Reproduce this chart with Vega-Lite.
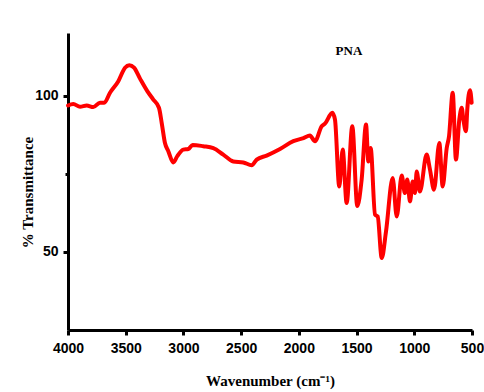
{
  "$schema": "https://vega.github.io/schema/vega-lite/v6.json",
  "width": 404,
  "height": 297,
  "autosize": "none",
  "padding": {"left": 68, "top": 33, "right": 12, "bottom": 62},
  "background": "white",
  "config": {"view": {"stroke": null}},
  "layer": [
    {
      "data": {"values": [
        {"wn": 4000, "t": 96.8}, {"wn": 3954, "t": 97.3}, {"wn": 3896, "t": 96.4}, {"wn": 3838, "t": 96.8},
        {"wn": 3781, "t": 96.3}, {"wn": 3723, "t": 97.7}, {"wn": 3686, "t": 97.7}, {"wn": 3636, "t": 100.9},
        {"wn": 3564, "t": 104.6}, {"wn": 3506, "t": 108.9}, {"wn": 3469, "t": 109.7}, {"wn": 3428, "t": 108.9},
        {"wn": 3376, "t": 105.4}, {"wn": 3313, "t": 101.4}, {"wn": 3261, "t": 98.7}, {"wn": 3212, "t": 96.1},
        {"wn": 3188, "t": 91.2}, {"wn": 3160, "t": 84.8}, {"wn": 3131, "t": 82.2}, {"wn": 3088, "t": 78.6},
        {"wn": 3053, "t": 80.6}, {"wn": 3001, "t": 82.7}, {"wn": 2958, "t": 82.9}, {"wn": 2920, "t": 84.2},
        {"wn": 2828, "t": 83.8}, {"wn": 2741, "t": 83.2}, {"wn": 2655, "t": 81.1}, {"wn": 2568, "t": 78.9},
        {"wn": 2481, "t": 78.6}, {"wn": 2409, "t": 77.7}, {"wn": 2365, "t": 79.5}, {"wn": 2279, "t": 80.8},
        {"wn": 2163, "t": 82.9}, {"wn": 2048, "t": 85.4}, {"wn": 1960, "t": 86.4}, {"wn": 1904, "t": 87.2},
        {"wn": 1860, "t": 85.4}, {"wn": 1802, "t": 90.2}, {"wn": 1774, "t": 91.0}, {"wn": 1710, "t": 94.5},
        {"wn": 1687, "t": 92.3}, {"wn": 1650, "t": 70.9}, {"wn": 1620, "t": 82.7}, {"wn": 1586, "t": 65.6},
        {"wn": 1537, "t": 90.2}, {"wn": 1494, "t": 64.7}, {"wn": 1456, "t": 73.1}, {"wn": 1418, "t": 90.7},
        {"wn": 1398, "t": 78.9}, {"wn": 1378, "t": 83.2}, {"wn": 1340, "t": 61.9}, {"wn": 1317, "t": 61.3},
        {"wn": 1282, "t": 48.0}, {"wn": 1245, "t": 56.5}, {"wn": 1187, "t": 73.6}, {"wn": 1152, "t": 61.3},
        {"wn": 1109, "t": 74.4}, {"wn": 1081, "t": 68.8}, {"wn": 1061, "t": 73.1}, {"wn": 1037, "t": 66.1},
        {"wn": 1014, "t": 72.5}, {"wn": 994, "t": 68.8}, {"wn": 979, "t": 75.7}, {"wn": 951, "t": 69.3},
        {"wn": 893, "t": 81.1}, {"wn": 864, "t": 76.3}, {"wn": 829, "t": 69.9}, {"wn": 783, "t": 84.8},
        {"wn": 754, "t": 70.9}, {"wn": 719, "t": 83.2}, {"wn": 699, "t": 87.0}, {"wn": 667, "t": 100.9},
        {"wn": 639, "t": 79.5}, {"wn": 610, "t": 92.3}, {"wn": 589, "t": 96.1}, {"wn": 575, "t": 92.3},
        {"wn": 552, "t": 88.6}, {"wn": 541, "t": 95.5}, {"wn": 517, "t": 101.7}, {"wn": 503, "t": 97.7}
      ]},
      "mark": {"type": "line", "color": "#ff0000", "strokeWidth": 4, "strokeJoin": "round", "strokeCap": "round", "interpolate": "monotone"},
      "encoding": {
        "x": {
          "field": "wn", "type": "quantitative",
          "scale": {"domain": [4000, 500], "nice": false, "zero": false},
          "axis": {
            "values": [4000, 3750, 3500, 3250, 3000, 2750, 2500, 2250, 2000, 1750, 1500, 1250, 1000, 750, 500],
            "labelExpr": "datum.value % 500 == 0 ? datum.label : ''",
            "format": "d",
            "grid": false,
            "domainColor": "black", "domainWidth": 3,
            "tickColor": "black", "tickWidth": 3,
            "tickSize": {"condition": {"test": "datum.value % 500 == 0", "value": 5}, "value": 3},
            "labelFont": "Liberation Sans", "labelFontWeight": "bold", "labelFontSize": 14, "labelColor": "black",
            "labelPadding": 6, "labelFlush": false, "labelOverlap": false,
            "title": "Wavenumber (cm⁻¹)",
            "titleFont": "Liberation Serif", "titleFontWeight": "bold", "titleFontSize": 15, "titleColor": "black",
            "titlePadding": 18
          }
        },
        "y": {
          "field": "t", "type": "quantitative",
          "scale": {"domain": [25, 120], "nice": false, "zero": false},
          "axis": {
            "values": [50, 75, 100],
            "labelExpr": "datum.value == 75 ? '' : datum.label",
            "grid": false,
            "domainColor": "black", "domainWidth": 3,
            "tickColor": "black", "tickWidth": 3,
            "tickSize": {"condition": {"test": "datum.value == 75", "value": 3}, "value": 5},
            "labelFont": "Liberation Sans", "labelFontWeight": "bold", "labelFontSize": 14, "labelColor": "black",
            "labelPadding": 5,
            "title": "% Transmittance",
            "titleFont": "Liberation Serif", "titleFontWeight": "bold", "titleFontSize": 15, "titleColor": "black",
            "titleX": -33,
            "titleY": 159,
            "titleBaseline": "bottom"
          }
        }
      }
    },
    {
      "data": {"values": [{"label": "PNA", "wn": 1566, "t": 114.4}]},
      "mark": {"type": "text", "font": "Liberation Serif", "fontWeight": "bold", "fontSize": 13, "color": "black", "baseline": "middle", "align": "center"},
      "encoding": {
        "x": {"field": "wn", "type": "quantitative"},
        "y": {"field": "t", "type": "quantitative"},
        "text": {"field": "label"}
      }
    }
  ]
}
